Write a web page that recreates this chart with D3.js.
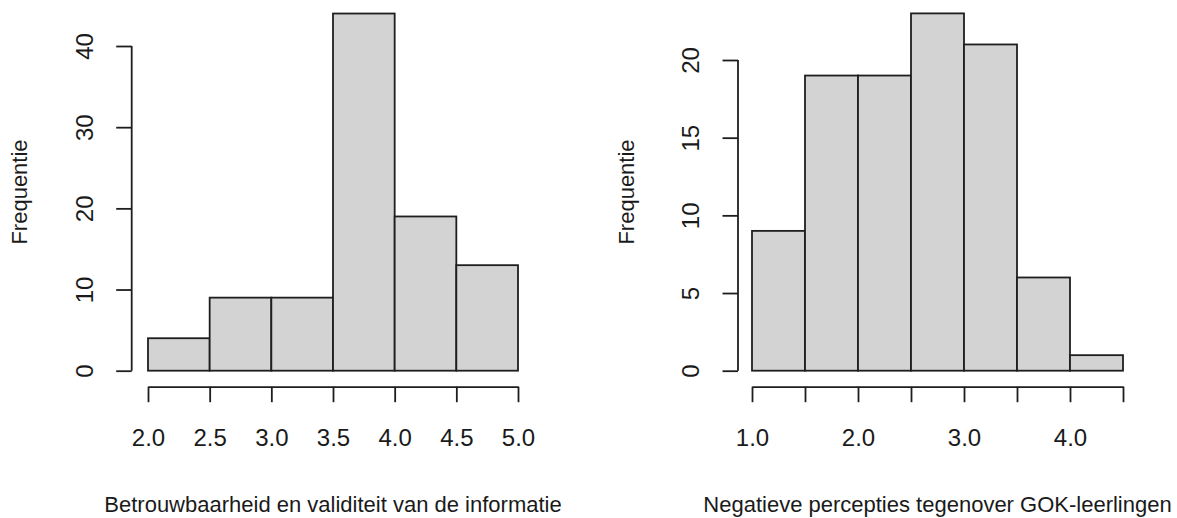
<!DOCTYPE html>
<html>
<head>
<meta charset="utf-8">
<script src="https://cdn.jsdelivr.net/npm/d3@7"></script>
<style>
    body { margin: 0; background: #fff; }
    svg { display: block; font-family: Arial, "Liberation Sans", sans-serif; }
    .tick-label { font-size: 24px; fill: #1a1a1a; }
    .axis-title { font-size: 22px; fill: #1a1a1a; }
</style>
</head>
<body>
<svg id="chart"></svg>
<script>
// Left histogram: Betrouwbaarheid en validiteit
const leftBreaks = [2.0, 2.5, 3.0, 3.5, 4.0, 4.5, 5.0];
const leftCounts = [4, 9, 9, 44, 19, 13];
const leftXTickLabels = ['2.0', '2.5', '3.0', '3.5', '4.0', '4.5', '5.0'];
const leftYTicks = [0, 10, 20, 30, 40];
const leftTitle = 'Betrouwbaarheid en validiteit van de informatie';

// Right histogram: Negatieve percepties
const rightBreaks = [1.0, 1.5, 2.0, 2.5, 3.0, 3.5, 4.0, 4.5];
const rightCounts = [9, 19, 19, 23, 21, 6, 1];
const rightXTickLabels = ['1.0', '', '2.0', '', '3.0', '', '4.0', ''];
const rightYTicks = [0, 5, 10, 15, 20];
const rightTitle = 'Negatieve percepties tegenover GOK-leerlingen';

const yLabel = 'Frequentie';

class histogramPanel {

    constructor(_config, _breaks, _counts) {
        this.config = {
            parent: _config.parent,
            axisX: _config.axisX,          // x position of the y-axis line
            xRange: _config.xRange,        // pixel extent of the bins
            zeroY: _config.zeroY || 370.7,
            topY: _config.topY,            // pixel y of the last y tick
            xAxisY: _config.xAxisY || 386.7,
            tickLen: _config.tickLen || 15.5,
            xTickLabels: _config.xTickLabels,
            yTicks: _config.yTicks,
            xTitle: _config.xTitle,
            yTitle: _config.yTitle
        };
        this.breaks = _breaks;
        this.counts = _counts;
        this.initVis();
    }

    initVis() {
        let vis = this;
        let c = vis.config;

        vis.bins = vis.counts.map((n, i) => ({ x0: vis.breaks[i], x1: vis.breaks[i + 1], n: n }));

        vis.xScale = d3.scaleLinear()
            .domain(d3.extent(vis.breaks))
            .range(c.xRange);

        vis.yScale = d3.scaleLinear()
            .domain([0, d3.max(c.yTicks)])
            .range([c.zeroY, c.topY]);

        vis.g = c.parent.append('g');

        vis.renderVis();
    }

    renderVis() {
        let vis = this;
        let c = vis.config;
        const ink = '#1e1e1e';
        const lw = 1.8;

        // bars
        vis.g.selectAll('rect.bar')
            .data(vis.bins)
            .join('rect')
            .attr('class', 'bar')
            .attr('x', d => vis.xScale(d.x0))
            .attr('y', d => vis.yScale(d.n))
            .attr('width', d => vis.xScale(d.x1) - vis.xScale(d.x0))
            .attr('height', d => vis.yScale(0) - vis.yScale(d.n))
            .attr('fill', '#d3d3d3')
            .attr('stroke', ink)
            .attr('stroke-width', lw);

        // x axis (R style: line spans first..last tick, ticks point down)
        const xAxis = d3.axisBottom(vis.xScale)
            .tickValues(vis.breaks)
            .tickFormat((d, i) => c.xTickLabels[i])
            .tickSize(c.tickLen)
            .tickSizeOuter(0);

        const xg = vis.g.append('g')
            .attr('transform', `translate(0,${c.xAxisY})`)
            .call(xAxis);
        xg.attr('font-size', null).attr('font-family', null);
        xg.select('.domain').attr('stroke', ink).attr('stroke-width', lw);
        xg.selectAll('.tick line').attr('stroke', ink).attr('stroke-width', lw);
        xg.selectAll('.tick text')
            .attr('class', 'tick-label')
            .attr('y', 59)
            .attr('dy', 0)
            .attr('fill', null);

        // y axis
        const yAxis = d3.axisLeft(vis.yScale)
            .tickValues(c.yTicks)
            .tickFormat(d3.format('d'))
            .tickSize(c.tickLen)
            .tickSizeOuter(0);

        const yg = vis.g.append('g')
            .attr('transform', `translate(${c.axisX},0)`)
            .call(yAxis);
        yg.attr('font-size', null).attr('font-family', null);
        yg.select('.domain').remove();
        yg.append('line')
            .attr('y1', vis.yScale(d3.min(c.yTicks)))
            .attr('y2', vis.yScale(d3.max(c.yTicks)))
            .attr('stroke', ink)
            .attr('stroke-width', lw);
        yg.selectAll('.tick line').attr('stroke', ink).attr('stroke-width', lw);
        yg.selectAll('.tick text')
            .attr('class', 'tick-label')
            .attr('transform', 'rotate(-90)')
            .attr('x', 0)
            .attr('y', -38.7)
            .attr('dy', 0)
            .attr('fill', null)
            .style('text-anchor', 'middle');

        // axis titles
        const xMid = (c.xRange[0] + c.xRange[1]) / 2;
        vis.g.append('text')
            .attr('class', 'axis-title')
            .attr('x', xMid)
            .attr('y', 512)
            .style('text-anchor', 'middle')
            .text(c.xTitle);

        vis.g.append('text')
            .attr('class', 'axis-title')
            .attr('transform', `translate(${c.axisX - 104.5},192) rotate(-90)`)
            .style('text-anchor', 'middle')
            .text(c.yTitle);
    }
}

const svg = d3.select('#chart')
    .attr('width', 1177)
    .attr('height', 518);

new histogramPanel({
    parent: svg,
    axisX: 131.7,
    xRange: [148, 518],
    topY: 46,
    xTickLabels: leftXTickLabels,
    yTicks: leftYTicks,
    xTitle: leftTitle,
    yTitle: yLabel
}, leftBreaks, leftCounts);

new histogramPanel({
    parent: svg,
    axisX: 738,
    xRange: [752, 1123],
    topY: 60,
    xTickLabels: rightXTickLabels,
    yTicks: rightYTicks,
    xTitle: rightTitle,
    yTitle: yLabel
}, rightBreaks, rightCounts);
</script>
</body>
</html>
